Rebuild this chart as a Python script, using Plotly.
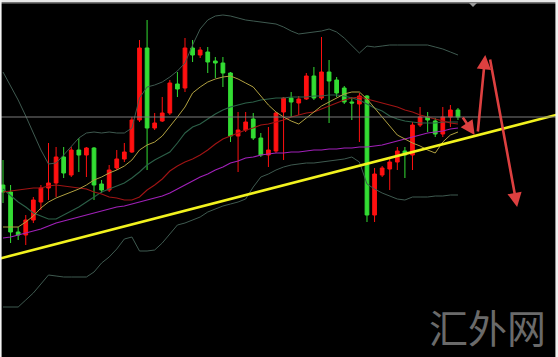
import plotly.graph_objects as go

# ---------------- data ----------------
idx = list(range(61))

opens = [172,165,125,122,137,155,169,174,200,182,207,202,209,173,167,189,198,205,237,309,
         229,236,244,273,269,309,302,305,296,294,284,221,227,238,219,202,206,245,259,254,
         258,281,259,285,277,269,255,253,261,142,182,188,195,206,202,232,240,236,223,240,247]
highs = [197,172,130,142,160,172,214,210,210,210,219,210,210,177,192,207,214,240,317,337,
         244,260,277,285,319,317,310,310,300,300,285,245,245,244,224,230,245,260,265,261,
         284,290,320,297,280,271,260,264,262,189,191,199,210,210,235,250,245,239,250,252,249]
lows  = [154,114,117,112,134,147,157,160,179,180,185,180,157,164,165,187,195,204,235,187,
         227,235,242,260,265,295,299,284,279,270,215,185,225,217,200,190,204,197,240,242,
         257,257,257,234,260,253,237,215,135,135,180,167,187,179,187,230,225,220,220,230,237]
closes = [165,125,122,137,157,169,174,200,184,207,202,209,172,167,187,198,205,237,309,229,
          234,244,274,268,309,302,307,295,294,284,221,227,235,219,202,207,244,259,255,258,
          281,259,285,276,264,255,254,261,142,183,189,195,206,202,232,240,237,223,240,247,240]

boll_upper = [285,271,257,241,224,207,193,194,202,211,219,224,225,224,225,224,224,229,259,270,
              272,275,280,286,294,312,328,337,341,342,341,339,337,336,335,334,333,330,326,323,
              324,325,326,328,325,319,311,304,311,310,311,312,312,312,312,312,312,310,308,305,302]
boll_mid = [168,161,155,150,144,141,138,138,142,146,150,155,160,165,168,171,174,179,185,192,
            197,201,205,214,224,230,233,238,243,247,250,252,254,255,257,258,259,259,260,260,
            260,261,261,262,262,261,259,257,253,249,246,241,238,236,235,234,234,234,235,235,235]
boll_lower = [50,50,50,57,64,73,82,81,80,80,80,80,85,94,100,108,118,120,106,106,
              107,114,123,132,134,137,140,145,148,151,153,155,158,170,180,183,187,190,192,193,
              194,194,195,196,197,198,200,195,173,168,164,161,158,157,160,160,160,161,161,162,162]
ma_fast = [130,130,130,135,141,149,155,159,162,165,168,172,177,180,184,187,191,197,207,212,
           215,221,230,240,250,264,270,275,278,280,281,278,274,270,261,252,245,240,236,233,
           239,245,251,255,259,263,265,265,258,249,239,230,222,218,214,211,207,204,215,222,225]
ma_mid = [165,166,167,168,169,169,171,172,171,170,169,168,165,163,160,159,157,157,160,167,
          172,178,186,191,195,198,202,207,213,218,221,224,227,229,232,233,235,237,240,242,
          244,245,248,251,254,257,259,260,258,256,254,252,250,247,245,242,240,238,236,234,233]
ma_slow = [119,120,122,124,126,128,131,134,136,138,140,142,144,146,148,150,151,153,155,157,
           159,161,164,168,172,176,180,183,187,190,194,196,199,200,202,203,204,204,205,205,
           206,207,207,208,208,209,209,210,210,211,212,214,216,218,220,222,224,225,226,228,229]

ref_level = 240
trend_x = [-0.4, 73.2]
trend_y = [98.5, 242.5]

arrow_x0 = [60.5, 62.6, 64.2]
arrow_y0 = [241, 224, 299]
arrow_x1 = [62.2, 63.6, 67.8]
arrow_y1 = [222, 302, 150]

watermark = "汇外网"

# ---------------- figure ----------------
fig = go.Figure()

band_col = "#3f5a50"
for ys, col, w in [(boll_upper, band_col, 1), (boll_lower, band_col, 1),
                   (boll_mid, "#2c6048", 1.1), (ma_slow, "#a020b8", 1.2),
                   (ma_mid, "#a01414", 1.1), (ma_fast, "#b0a040", 1)]:
    fig.add_trace(go.Scatter(x=idx, y=ys, mode="lines",
                             line=dict(color=col, width=w), hoverinfo="skip",
                             showlegend=False))

fig.add_trace(go.Candlestick(
    x=idx, open=opens, high=highs, low=lows, close=closes,
    increasing=dict(line=dict(color="#ff1010", width=1), fillcolor="#ff1010"),
    decreasing=dict(line=dict(color="#33dd33", width=1), fillcolor="#33dd33"),
    whiskerwidth=0, showlegend=False))

fig.add_trace(go.Scatter(x=trend_x, y=trend_y, mode="lines",
                         line=dict(color="#f2f21e", width=2.6),
                         hoverinfo="skip", showlegend=False))

shapes = [
    dict(type="line", xref="paper", yref="y", x0=0, x1=1, y0=ref_level, y1=ref_level,
         line=dict(color="#7a7a7a", width=1)),
    # frame edges of the screenshot
    dict(type="rect", xref="paper", yref="paper", x0=0, x1=1, y0=1 - 2.2 / 357, y1=1,
         fillcolor="#e8e8e8", line=dict(width=0)),
    dict(type="line", xref="paper", yref="paper", x0=0, x1=1, y0=1 - 2.8 / 357, y1=1 - 2.8 / 357,
         line=dict(color="#8a8a8a", width=1.2)),
    dict(type="rect", xref="paper", yref="paper", x0=0, x1=1.6 / 558, y0=0, y1=1,
         fillcolor="#f2f2f2", line=dict(width=0)),
    dict(type="rect", xref="paper", yref="paper", x0=1 - 2.6 / 558, x1=1, y0=0, y1=1,
         fillcolor="#f2f2f2", line=dict(width=0)),
    dict(type="path", xref="paper", yref="paper",
         path=f"M {469/558} {1-3/357} L {477/558} {1-3/357} L {473/558} {1-7/357} Z",
         fillcolor="#9a9a9a", line=dict(width=0)),
]

annotations = []
for x0, y0, x1, y1 in zip(arrow_x0, arrow_y0, arrow_x1, arrow_y1):
    annotations.append(dict(x=x1, y=y1, ax=x0, ay=y0, xref="x", yref="y",
                            axref="x", ayref="y", text="", showarrow=True,
                            arrowhead=2, arrowsize=1.1, arrowwidth=2.6,
                            arrowcolor="rgba(240,70,70,0.92)"))
annotations.append(dict(x=487 / 558, y=1 - 326 / 357, xref="paper", yref="paper",
                        xanchor="center", yanchor="middle",
                        text=watermark, showarrow=False,
                        font=dict(family="Noto Sans CJK SC", size=39, color="#6a6a6a")))

fig.update_layout(
    width=558, height=357,
    margin=dict(l=0, r=0, t=0, b=0),
    paper_bgcolor="#000000", plot_bgcolor="#000000",
    xaxis=dict(range=[-0.396, 73.19], visible=False, rangeslider=dict(visible=False),
               fixedrange=True),
    yaxis=dict(range=[0, 357], visible=False, fixedrange=True),
    shapes=shapes, annotations=annotations,
    showlegend=False,
)

fig.write_html("out.html", config={"displayModeBar": False})
